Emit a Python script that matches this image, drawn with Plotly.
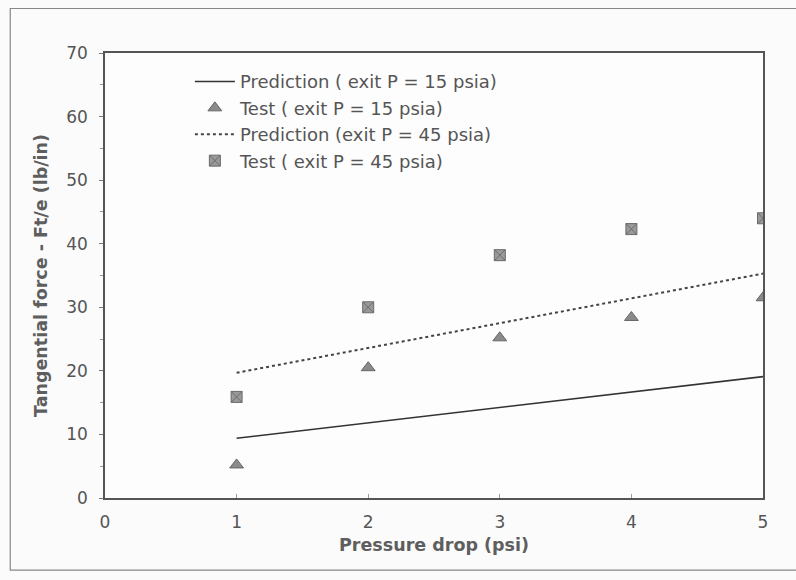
import plotly.graph_objects as go

pressure_drop = [1, 2, 3, 4, 5]
pred_15 = [9.4, 11.8, 14.2, 16.6, 19.1]
test_15 = [5.2, 20.5, 25.2, 28.4, 31.5]
pred_45 = [19.7, 23.6, 27.5, 31.4, 35.3]
test_45 = [15.9, 30.0, 38.2, 42.3, 44.0]

x_ticks = [0, 1, 2, 3, 4, 5]
y_ticks = [0, 10, 20, 30, 40, 50, 60, 70]

font_family = "DejaVu Sans, Verdana, sans-serif"

fig = go.Figure()
fig.add_trace(go.Scatter(x=pressure_drop, y=pred_15, mode="lines",
                         name="Prediction ( exit P = 15 psia)",
                         line=dict(color="#333333", width=1.6)))
fig.add_trace(go.Scatter(x=pressure_drop, y=test_15, mode="markers",
                         name="Test ( exit P = 15 psia)",
                         marker=dict(symbol="triangle-up", size=12, color="#8a8a8a",
                                     line=dict(color="#666666", width=1))))
fig.add_trace(go.Scatter(x=pressure_drop, y=pred_45, mode="lines",
                         name="Prediction (exit P = 45 psia)",
                         line=dict(color="#444444", width=2, dash="dot")))
fig.add_trace(go.Scatter(x=pressure_drop, y=test_45, mode="markers",
                         name="Test ( exit P = 45 psia)",
                         marker=dict(symbol="square-x", size=11, color="#9a9a9a",
                                     line=dict(color="#6a6a6a", width=1))))

fig.update_layout(
    width=796, height=580,
    margin=dict(l=105, r=33, t=53, b=82),
    paper_bgcolor="#fbfbfb",
    plot_bgcolor="#fdfdfd",
    font=dict(family=font_family, size=16, color="#555555"),
    showlegend=True,
    legend=dict(x=0.129, y=0.977, xanchor="left", yanchor="top",
                bgcolor="rgba(0,0,0,0)", font=dict(size=18, color="#555555"),
                tracegroupgap=0, itemwidth=40),
    xaxis=dict(range=[0, 5], tickvals=x_ticks, ticktext=[str(v) for v in x_ticks],
               showgrid=False, zeroline=False, showline=True, linecolor="#555555",
               linewidth=1.5, mirror=True, ticks="inside", ticklen=4, tickcolor="#999999",
               tickfont=dict(size=17, color="#555555"), ticklabelstandoff=8,
               title=dict(text="<b>Pressure drop (psi)</b>", standoff=8,
                          font=dict(size=17.5, color="#5e5e5e"))),
    yaxis=dict(range=[0, 70], tickvals=y_ticks, ticktext=[str(v) for v in y_ticks],
               showgrid=False, zeroline=False, showline=True, linecolor="#555555",
               linewidth=1.5, mirror=True, ticks="outside", ticklen=4, tickcolor="#777777",
               tickfont=dict(size=17, color="#555555"), ticklabelstandoff=8,
               minor=dict(ticks="outside", ticklen=3, dtick=5, tickcolor="#999999"),
               title=dict(text="<b>Tangential force - Ft/e (lb/in)</b>", standoff=14,
                          font=dict(size=17.5, color="#5e5e5e"))),
    shapes=[dict(type="rect", xref="paper", yref="paper", x0=-0.144, x1=1.08,
                 y0=-0.162, y1=1.1, line=dict(color="#888888", width=1.2),
                 layer="below")],
)

fig.write_html("out.html")
